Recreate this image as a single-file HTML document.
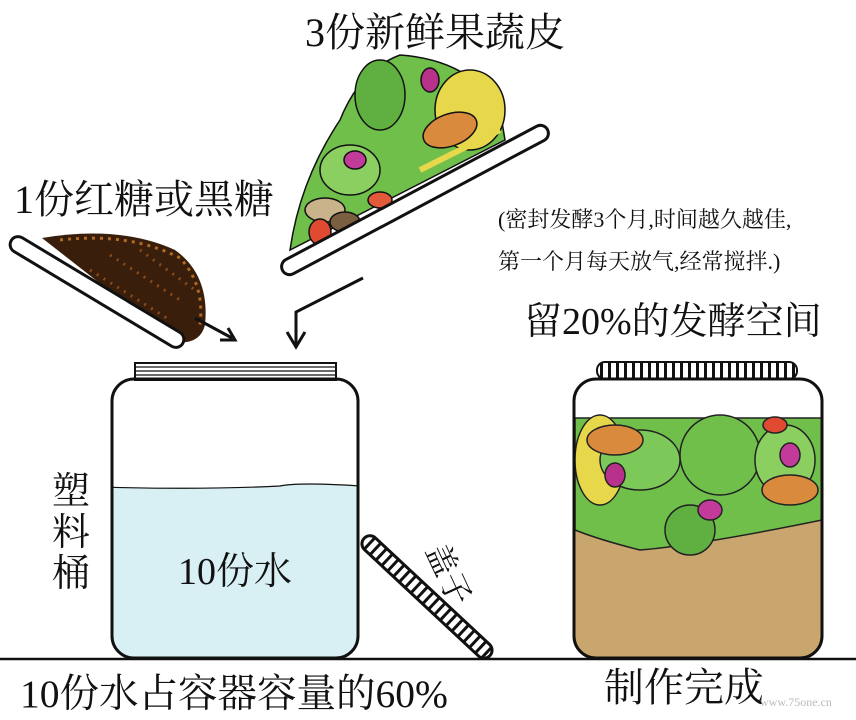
<!DOCTYPE html>
<html><head><meta charset="utf-8"><style>
html,body{margin:0;padding:0;background:#fff;width:856px;height:720px;overflow:hidden}
svg{display:block}
text{font-family:"Liberation Serif","Noto Serif CJK SC","Noto Sans CJK SC",serif;fill:#111}
</style></head><body>
<svg width="856" height="720" viewBox="0 0 856 720" xmlns="http://www.w3.org/2000/svg">
<defs>
<pattern id="hh" width="8" height="8" patternUnits="userSpaceOnUse"><rect width="8" height="8" fill="#fff"/><rect width="3" height="8" fill="#111"/></pattern>
</defs>
<!-- titles -->
<text x="305" y="46" font-size="40">3份新鲜果蔬皮</text>
<text x="14" y="213" font-size="40">1份红糖或黑糖</text>
<text x="498" y="227" font-size="22">(密封发酵3个月,时间越久越佳,</text>
<text x="498" y="269" font-size="22">第一个月每天放气,经常搅拌.)</text>
<text x="524" y="334" font-size="38">留20%的发酵空间</text>

<!-- sugar -->
<path d="M42,238 Q120,225 175,250 Q210,275 205,325 Q200,345 175,342 Z" fill="#3a1e0c"/>
<path d="M60,240 Q130,232 180,258 Q205,285 200,325" fill="none" stroke="#b06a22" stroke-width="3" stroke-dasharray="3 5"/>
<path d="M90,270 L170,320 M110,255 L180,300 M140,250 L195,290" stroke="#8a4a18" stroke-width="3" stroke-dasharray="2 6"/>
<g transform="translate(97,292) rotate(31)"><rect x="-100" y="-8" width="200" height="16" rx="8" fill="#fff" stroke="#111" stroke-width="3"/></g>
<!-- veg -->
<g stroke="#111" stroke-width="1.5">
<path d="M290,250 Q300,180 340,120 Q360,70 400,55 Q470,60 500,110 L505,140 Z" fill="#6fbf4a"/>
<ellipse cx="470" cy="110" rx="35" ry="40" fill="#e6d84a"/>
<ellipse cx="450" cy="130" rx="28" ry="16" fill="#d98a3d" transform="rotate(-20 450 130)"/>
<ellipse cx="380" cy="95" rx="25" ry="35" fill="#5fb040"/>
<ellipse cx="350" cy="170" rx="30" ry="25" fill="#8bcf60"/>
<ellipse cx="325" cy="210" rx="20" ry="12" fill="#c9b38a"/>
<ellipse cx="345" cy="222" rx="15" ry="10" fill="#7a6040"/>
<ellipse cx="355" cy="160" rx="11" ry="9" fill="#c23a9a"/>
<ellipse cx="430" cy="80" rx="9" ry="12" fill="#b8328c"/>
<ellipse cx="320" cy="232" rx="11" ry="13" fill="#e04a30"/>
<ellipse cx="380" cy="200" rx="12" ry="8" fill="#e25a3a"/>
<path d="M420,170 L500,130" stroke="#e6d84a" stroke-width="6"/>
</g>
<g transform="translate(415,200) rotate(-28)"><rect x="-150" y="-8" width="300" height="16" rx="8" fill="#fff" stroke="#111" stroke-width="3"/></g>
<!-- arrows -->
<g stroke="#111" stroke-width="3" fill="none">
<path d="M195,318 L232,338"/><path d="M220,340 L235,340 L228,328"/>
<path d="M363,278 L296,312 L296,346"/><path d="M287,332 L296,347 L305,332"/>
</g>

<!-- ground -->
<line x1="0" y1="659" x2="856" y2="659" stroke="#111" stroke-width="2.5"/>

<!-- left jar -->
<rect x="135" y="363" width="201" height="17" fill="#fff" stroke="#111" stroke-width="2"/>
<g stroke="#111" stroke-width="1.2"><line x1="135" y1="367" x2="336" y2="367"/><line x1="135" y1="371" x2="336" y2="371"/><line x1="135" y1="375" x2="336" y2="375"/></g>
<clipPath id="j1"><rect x="112" y="379" width="246" height="279" rx="22"/></clipPath>
<g clip-path="url(#j1)"><path d="M100,487 Q200,490 280,486 Q300,482 360,486 L360,670 L100,670 Z" fill="#d8eff4" stroke="#111" stroke-width="1.2"/></g>
<rect x="112" y="379" width="246" height="279" rx="22" fill="none" stroke="#111" stroke-width="3"/>
<text x="178" y="584" font-size="38">10份水</text>
<text x="52" y="504" font-size="38">塑</text><text x="52" y="545" font-size="38">料</text><text x="52" y="586" font-size="38">桶</text>
<!-- leaning lid -->
<g transform="translate(427,597) rotate(43)"><rect x="-86" y="-8" width="172" height="16" rx="8" fill="url(#hh)" stroke="#111" stroke-width="3"/></g>
<text transform="translate(425,550) rotate(65)" font-size="32">盖子</text>
<text x="20" y="707" font-size="39.5">10份水占容器容量的60%</text>

<!-- right jar -->
<rect x="597" y="362" width="200" height="17" rx="8" fill="url(#hh)" stroke="#111" stroke-width="2"/>
<clipPath id="j2"><rect x="574" y="379" width="248" height="279" rx="22"/></clipPath>
<g clip-path="url(#j2)">
<rect x="570" y="420" width="260" height="250" fill="#c9a66d"/>
<path d="M575,418 L822,418 L822,520 Q700,545 640,550 Q600,540 575,530 Z" fill="#6fbf4a" stroke="#222" stroke-width="1.5"/>
<g stroke="#222" stroke-width="1.5">
<ellipse cx="600" cy="460" rx="25" ry="45" fill="#e6d84a"/>
<ellipse cx="640" cy="460" rx="40" ry="30" fill="#7cc95a"/>
<ellipse cx="720" cy="455" rx="40" ry="40" fill="#6fbf4a"/>
<ellipse cx="785" cy="460" rx="30" ry="35" fill="#8bcf60"/>
<ellipse cx="615" cy="440" rx="28" ry="15" fill="#d98a3d"/>
<ellipse cx="790" cy="490" rx="28" ry="15" fill="#d98a3d"/>
<ellipse cx="690" cy="530" rx="25" ry="25" fill="#5fb040"/>
<ellipse cx="710" cy="510" rx="12" ry="10" fill="#c23a9a"/>
<ellipse cx="790" cy="455" rx="10" ry="12" fill="#c23a9a"/>
<ellipse cx="615" cy="475" rx="10" ry="12" fill="#b8328c"/>
<ellipse cx="775" cy="425" rx="12" ry="8" fill="#e04a30"/>
</g>
</g>
<rect x="574" y="379" width="248" height="279" rx="22" fill="none" stroke="#111" stroke-width="3"/>
<text x="604" y="701" font-size="40">制作完成</text>
<text x="760" y="706" font-size="12" style="fill:#bbb">www.75one.cn</text>
</svg>
</body></html>
